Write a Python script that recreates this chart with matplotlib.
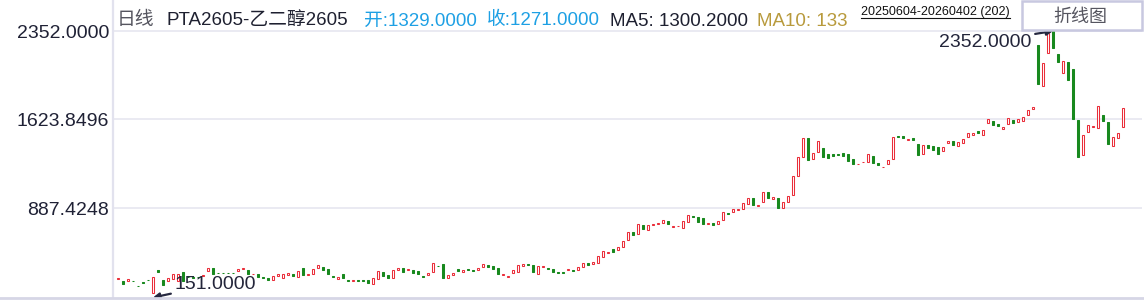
import matplotlib
matplotlib.use('Agg')
import matplotlib.pyplot as plt
from matplotlib.patches import Rectangle
from matplotlib.lines import Line2D
import numpy as np

plt.rcParams['font.family'] = ['Liberation Sans', 'Noto Sans CJK SC', 'DejaVu Sans']

# 日线数据 20250604-20260402, 202 根
opens = [305, 289, 289, 289, 248, 278, 297, 185, 378, 295,
         287, 304, 287, 359, 322, 320, 324, 325, 372, 397,
         357, 356, 357, 356, 372, 384, 378, 343, 345, 320,
         309, 295, 331, 314, 339, 342, 323, 392, 340, 347,
         397, 400, 384, 328, 306, 342, 295, 285, 295, 294,
         295, 265, 306, 359, 337, 314, 375, 392, 382, 378,
         370, 328, 339, 364, 415, 425, 314, 337, 386, 359,
         386, 377, 380, 405, 419, 411, 394, 340, 324, 355,
         364, 413, 427, 419, 347, 406, 394, 386, 361, 360,
         382, 377, 380, 405, 436, 425, 433, 488, 522, 549,
         546, 565, 623, 692, 673, 750, 711, 753, 762, 769,
         783, 737, 738, 727, 772, 823, 816, 807, 762, 766,
         760, 788, 848, 854, 877, 884, 920, 970, 910, 937,
         1020, 962, 973, 892, 937, 995, 1157, 1314, 1466, 1292,
         1350, 1383, 1336, 1336, 1336, 1344, 1334, 1292, 1251, 1268,
         1267, 1319, 1264, 1227, 1256, 1292, 1484, 1485, 1449, 1468,
         1419, 1338, 1408, 1402, 1391, 1363, 1424, 1443, 1405, 1424,
         1479, 1495, 1526, 1495, 1590, 1609, 1586, 1545, 1581, 1619,
         1600, 1611, 1661, 1710, 2236, 1895, 2168, 2352, 2164, 2003,
         2096, 2038, 1617, 1325, 1518, 1563, 1548, 1658, 1603, 1405,
         1466, 1562]
closes = [312, 262, 304, 285, 244, 274, 293, 318, 364, 251,
          309, 347, 347, 287, 318, 316, 320, 335, 394, 345,
          353, 352, 353, 352, 384, 394, 342, 347, 318, 316,
          295, 331, 342, 342, 350, 328, 370, 337, 344, 384,
          417, 378, 347, 324, 318, 314, 291, 295, 291, 290,
          273, 309, 370, 331, 314, 378, 392, 364, 386, 355,
          345, 324, 350, 433, 411, 314, 334, 350, 372, 378,
          382, 373, 394, 425, 405, 386, 347, 344, 328, 378,
          417, 427, 423, 364, 411, 410, 390, 364, 357, 356,
          386, 373, 400, 433, 419, 444, 491, 532, 526, 529,
          568, 615, 689, 669, 755, 719, 750, 757, 766, 788,
          760, 741, 742, 780, 830, 819, 777, 760, 766, 750,
          780, 854, 844, 879, 881, 929, 970, 917, 914, 1020,
          975, 978, 892, 937, 989, 1152, 1309, 1466, 1286, 1342,
          1441, 1314, 1303, 1322, 1332, 1322, 1281, 1256, 1255, 1272,
          1334, 1264, 1249, 1231, 1286, 1474, 1480, 1466, 1462, 1454,
          1330, 1408, 1388, 1371, 1338, 1394, 1443, 1413, 1433, 1460,
          1507, 1509, 1512, 1534, 1625, 1578, 1570, 1562, 1631, 1595,
          1625, 1639, 1699, 1724, 1912, 2090, 2338, 2209, 2096, 2104,
          1947, 1628, 1309, 1490, 1578, 1567, 1730, 1611, 1419, 1474,
          1507, 1716]
extreme_low = 151.0
extreme_high = 2352.0
ytick_values = [887.4248, 1623.8496, 2352.0]

UP = '#EA2E3A'
DOWN = '#18891E'
W, H = 1144, 301

def fx(px):
    return px / W

def fy(py):
    return 1 - py / H

fig = plt.figure(figsize=(W / 100, H / 100), dpi=100)
fig.patch.set_facecolor('white')
ax = fig.add_axes([fx(112), fy(297), (1142 - 112) / W, (297 - 20) / H])
ax.set_facecolor('white')

o = np.array(opens, dtype=float)
c = np.array(closes, dtype=float)
x = np.arange(len(o))
up = c >= o
# 阳线空心, 阴线实心
ax.bar(x[up], (c - o)[up], bottom=o[up], width=0.55, facecolor='white',
       edgecolor=UP, linewidth=0.75, zorder=3)
ax.bar(x[~up], (c - o)[~up], bottom=o[~up], width=0.55, facecolor=DOWN,
       edgecolor=DOWN, linewidth=0.75, zorder=3)

ax.set_xlim(-1.2, 204.8)
ax.set_ylim(155.2, 2443.2)
ax.set_xticks([])
ax.set_yticks(ytick_values)
ax.set_yticklabels(['%.4f' % v for v in ytick_values])
ax.tick_params(axis='y', length=0, pad=2, labelsize=14, labelcolor='#1F2135')
ax.grid(axis='y', color='#E6E6F0', linewidth=1.2)
ax.set_axisbelow(True)
for s in ax.spines.values():
    s.set_visible(False)

# 最高 / 最低标注
lo_i = int(np.argmin(np.minimum(o, c)))
hi_i = int(np.argmax(np.maximum(o, c)))
arrow = dict(arrowstyle='-|>', color='#262840', lw=1.6, mutation_scale=9,
             shrinkA=1, shrinkB=0)
ax.annotate('%.4f' % extreme_low, xy=(lo_i, extreme_low), xytext=(lo_i + 4.4, 262),
            ha='left', va='center', fontsize=14, color='#23253A',
            arrowprops=arrow, annotation_clip=False, zorder=5)
ax.annotate('%.4f' % extreme_high, xy=(hi_i, extreme_high), xytext=(hi_i - 4.4, 2261),
            ha='right', va='center', fontsize=14, color='#23253A',
            arrowprops=arrow, annotation_clip=False, zorder=5)

# 边框线
fig.add_artist(Line2D([fx(112.5), fx(112.5)], [fy(0), fy(297)], color='#E2E2EE', lw=1.6))
fig.add_artist(Line2D([0, 1], [fy(297.5), fy(297.5)], color='#D6D6E6', lw=2.0))

# 顶部信息栏
base = fy(25.5)
hs = 13.5
fig.text(fx(117), base, '日线', fontsize=hs, color='#55555F', va='baseline')
fig.text(fx(166), base, 'PTA2605-乙二醇2605', fontsize=hs, color='#1E2030', va='baseline')
fig.text(fx(364), base, '开:1329.0000', fontsize=hs, color='#1EA0E4', va='baseline')
fig.text(fx(487), base, '收:1271.0000', fontsize=hs, color='#1EA0E4', va='baseline')
fig.text(fx(610), base, 'MA5: 1300.2000', fontsize=hs, color='#1E2030', va='baseline')
fig.text(fx(757), base, 'MA10: 133', fontsize=hs, color='#B89A3C', va='baseline')
date_txt = fig.text(fx(861), fy(15.5), '20250604-20260402 (202)', fontsize=9,
                    color='#111111', va='baseline')
fig.canvas.draw()
bb = date_txt.get_window_extent()
fig.add_artist(Line2D([bb.x0 / W, bb.x1 / W], [fy(17.5), fy(17.5)], color='#111111', lw=0.8))

# 折线图 按钮
fig.add_artist(Rectangle((fx(1022), fy(30)), (1142 - 1022) / W, 29 / H,
                         facecolor='white', edgecolor='#C8C8E0', lw=1.8))
fig.text(fx(1080), fy(17), '折线图', fontsize=13, color='#55555F', ha='center', va='center')

fig.savefig('out.png', dpi=100, facecolor='white')
